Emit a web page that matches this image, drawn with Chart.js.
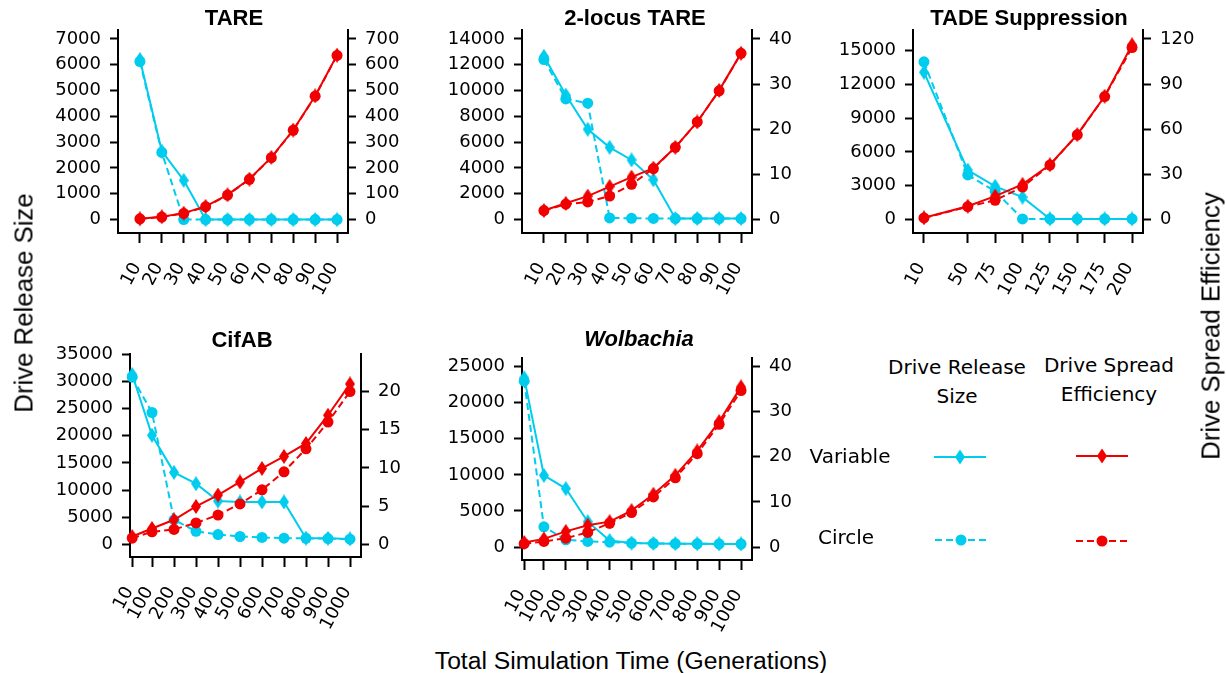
<!DOCTYPE html>
<html>
<head>
<meta charset="utf-8">
<script src="https://cdn.jsdelivr.net/npm/chart.js@4.4.1/dist/chart.umd.min.js"></script>
<style>
  body { margin: 0; background: #fff; }
  #fig { position: relative; width: 1226px; height: 673px; overflow: hidden; background: #fff; color: #000; }
  #fig canvas { position: absolute; }
  .ttl { position: absolute; font: bold 22px "Liberation Sans", Arial, sans-serif; transform: translate(-50%, -50%); white-space: nowrap; z-index: 2; }
  .axlab { position: absolute; font-family: "Liberation Sans", Arial, sans-serif; white-space: nowrap; transform: translate(-50%, -50%); }
  .vert { transform: translate(-50%, -50%) rotate(-90deg); font-size: 25.8px; }
  .leg { position: absolute; font: 20px "DejaVu Sans", sans-serif; text-align: center; transform: translate(-50%, -50%); line-height: 29px; white-space: nowrap; }
  .swatch { position: absolute; }
</style>
</head>
<body>
<div id="fig">
  <canvas id="cTare"></canvas>
  <canvas id="cTwoLocus"></canvas>
  <canvas id="cTade"></canvas>
  <canvas id="cCif"></canvas>
  <canvas id="cWol"></canvas>

  <div class="ttl" style="left:234px;top:18px">TARE</div>
  <div class="ttl" style="left:635px;top:18px">2-locus TARE</div>
  <div class="ttl" style="left:1029px;top:18px">TADE Suppression</div>
  <div class="ttl" style="left:242px;top:340px">CifAB</div>
  <div class="ttl" style="left:639px;top:339px;font-style:italic">Wolbachia</div>

  <div class="axlab vert" style="left:24px;top:303px">Drive Release Size</div>
  <div class="axlab vert" style="left:1211px;top:326px">Drive Spread Efficiency</div>
  <div class="axlab" style="left:631px;top:661px;font-size:24.7px">Total Simulation Time (Generations)</div>

  <div class="leg" style="left:957px;top:382px">Drive Release<br>Size</div>
  <div class="leg" style="left:1109px;top:380px">Drive Spread<br>Efficiency</div>
  <div class="leg" style="left:850px;top:456px">Variable</div>
  <div class="leg" style="left:846px;top:537px">Circle</div>

  <svg class="swatch" style="left:930px;top:445px" width="60" height="24">
    <line x1="4" y1="12" x2="56" y2="12" stroke="#00ccee" stroke-width="2"/>
    <polygon points="30,4.5 35,12 30,19.5 25,12" fill="#00ccee"/>
  </svg>
  <svg class="swatch" style="left:1072px;top:444px" width="60" height="24">
    <line x1="4" y1="12" x2="56" y2="12" stroke="#f00000" stroke-width="2"/>
    <polygon points="30,4.5 35,12 30,19.5 25,12" fill="#f00000"/>
  </svg>
  <svg class="swatch" style="left:931px;top:528px" width="60" height="24">
    <line x1="4" y1="12" x2="56" y2="12" stroke="#00ccee" stroke-width="2" stroke-dasharray="7,4"/>
    <circle cx="30" cy="12" r="5.5" fill="#00ccee"/>
  </svg>
  <svg class="swatch" style="left:1072px;top:529px" width="60" height="24">
    <line x1="4" y1="12" x2="56" y2="12" stroke="#f00000" stroke-width="2" stroke-dasharray="7,4"/>
    <circle cx="30" cy="12" r="5.5" fill="#f00000"/>
  </svg>
</div>

<script>
// ---- data ----
const tareGen = [10, 20, 30, 40, 50, 60, 70, 80, 90, 100];
const tareSizeVariable = [6200, 2650, 1520, 0, 0, 0, 0, 0, 0, 0];
const tareSizeCircle = [6120, 2600, 0, 0, 0, 0, 0, 0, 0, 0];
const tareSpreadVariable = [3, 11, 25, 51, 96, 157, 241, 347, 479, 637];
const tareSpreadCircle = [3, 10, 24, 50, 95, 156, 240, 346, 478, 636];

const twoLocusGen = [10, 20, 30, 40, 50, 60, 70, 80, 90, 100];
const twoLocusSizeVariable = [12650, 9650, 7000, 5600, 4620, 3080, 80, 80, 80, 80];
const twoLocusSizeCircle = [12400, 9350, 9020, 130, 100, 90, 80, 80, 80, 80];
const twoLocusSpreadVariable = [2.0, 3.6, 5.2, 7.3, 9.4, 11.4, 16.0, 21.6, 28.6, 36.8];
const twoLocusSpreadCircle = [2.0, 3.4, 3.9, 5.2, 7.8, 11.3, 16.0, 21.6, 28.5, 36.8];

const tadeGen = [10, 50, 75, 100, 125, 150, 175, 200];
const tadeSizeVariable = [13060, 4390, 2950, 1990, 60, 60, 60, 60];
const tadeSizeCircle = [13980, 3960, 2510, 60, 60, 60, 60, 60];
const tadeSpreadVariable = [1.2, 8.9, 15.6, 23.4, 36.4, 56.4, 81.9, 116.0];
const tadeSpreadCircle = [1.1, 8.6, 12.8, 21.6, 36.2, 56.3, 81.7, 114.2];

const cifGen = [10, 100, 200, 300, 400, 500, 600, 700, 800, 900, 1000];
const cifSizeVariable = [31300, 20100, 13260, 11170, 7980, 7800, 7800, 7800, 1130, 1100, 1000];
const cifSizeCircle = [30800, 24300, 4500, 2400, 1800, 1440, 1260, 1130, 1100, 1050, 950];
const cifSpreadVariable = [1.0, 2.06, 3.2, 4.94, 6.44, 8.16, 9.92, 11.5, 13.2, 16.9, 21.0];
const cifSpreadCircle = [0.8, 1.62, 1.93, 2.79, 3.82, 5.28, 7.13, 9.49, 12.5, 16.0, 20.0];

const wolGen = [10, 100, 200, 300, 400, 500, 600, 700, 800, 900, 1000];
const wolSizeVariable = [23430, 9920, 8100, 3510, 900, 550, 500, 470, 450, 430, 420];
const wolSizeCircle = [22970, 2800, 1000, 770, 680, 550, 500, 470, 450, 430, 420];
const wolSpreadVariable = [1.0, 1.8, 3.46, 4.84, 5.62, 8.08, 11.7, 15.9, 21.3, 27.8, 35.5];
const wolSpreadCircle = [0.73, 1.23, 1.95, 3.24, 5.27, 7.65, 11.1, 15.35, 20.7, 27.2, 34.7];

// ---- tick labels ----
const tadeTicksX = [10, 50, 75, 100, 125, 150, 175, 200];
const tareTicksLeft = [0, 1000, 2000, 3000, 4000, 5000, 6000, 7000];
const tareTicksRight = [0, 100, 200, 300, 400, 500, 600, 700];
const twoLocusTicksLeft = [0, 2000, 4000, 6000, 8000, 10000, 12000, 14000];
const twoLocusTicksRight = [0, 10, 20, 30, 40];
const tadeTicksLeft = [0, 3000, 6000, 9000, 12000, 15000];
const tadeTicksRight = [0, 30, 60, 90, 120];
const cifTicksLeft = [0, 5000, 10000, 15000, 20000, 25000, 30000, 35000];
const cifTicksRight = [0, 5, 10, 15, 20];
const wolTicksLeft = [0, 5000, 10000, 15000, 20000, 25000];
const wolTicksRight = [0, 10, 20, 30, 40];

// ---- style ----
const BLUE = '#00ccee';
const RED = '#f00000';
const PAD_L = 80, PAD_R = 70, PAD_T = 15, PAD_B = 80;

function thinDiamond(color) {
  const c = document.createElement('canvas');
  c.width = 10; c.height = 15;
  const g = c.getContext('2d');
  g.fillStyle = color;
  g.beginPath();
  g.moveTo(5, 0); g.lineTo(10, 7.5); g.lineTo(5, 15); g.lineTo(0, 7.5);
  g.closePath();
  g.fill();
  return c;
}
const diamondBlue = thinDiamond(BLUE);
const diamondRed = thinDiamond(RED);

function series(xs, ys, color, dashed, marker, axis) {
  return {
    data: xs.map((x, i) => ({ x: x, y: ys[i] })),
    yAxisID: axis,
    borderColor: color,
    backgroundColor: color,
    borderWidth: 2,
    borderDash: dashed ? [7, 4] : [],
    pointStyle: marker,
    pointRadius: 5.5,
    pointHoverRadius: 5.5,
    pointBorderWidth: 0,
    tension: 0,
    clip: false
  };
}

function axisStyle(ticks, tickLen, extra) {
  return Object.assign({
    type: 'linear',
    afterBuildTicks: (a) => { a.ticks = ticks.map(v => ({ value: v })); },
    border: { display: true, color: '#000', width: 2 },
    grid: { display: true, drawOnChartArea: false, drawTicks: true, tickLength: tickLen, tickWidth: 2, tickColor: '#000' },
  }, extra);
}

const tickFont = { family: 'DejaVu Sans', size: 18 };

function makePanel(id, area, xr, yl, yr, xt, ylt, yrt, sets, labelOffset) {
  const cv = document.getElementById(id);
  const w = area[2] - area[0] + PAD_L + PAD_R;
  const h = area[3] - area[1] + PAD_T + PAD_B;
  cv.width = w; cv.height = h;
  cv.style.left = (area[0] - PAD_L) + 'px';
  cv.style.top = (area[1] - PAD_T) + 'px';
  cv.style.width = w + 'px';
  cv.style.height = h + 'px';

  new Chart(cv.getContext('2d'), {
    type: 'line',
    data: { datasets: sets },
    options: {
      responsive: false,
      animation: false,
      events: [],
      layout: { padding: { top: PAD_T, left: 0, right: 0, bottom: 0 } },
      plugins: { legend: { display: false }, tooltip: { enabled: false }, title: { display: false } },
      scales: {
        x: axisStyle(xt, 10, {
          position: 'bottom', min: xr[0], max: xr[1],
          afterFit: (s) => { s.height = PAD_B; },
          ticks: { color: '#000', font: tickFont, autoSkip: false, minRotation: 62, maxRotation: 62,
                   padding: 16, labelOffset: labelOffset, callback: (v) => String(v) }
        }),
        yL: axisStyle(ylt, 8, {
          position: 'left', min: yl[0], max: yl[1],
          afterFit: (s) => { s.width = PAD_L; },
          ticks: { color: '#000', font: tickFont, padding: 9, callback: (v) => String(v) }
        }),
        yR: axisStyle(yrt, 8, {
          position: 'right', min: yr[0], max: yr[1],
          afterFit: (s) => { s.width = PAD_R; },
          ticks: { color: '#000', font: tickFont, padding: 9, callback: (v) => String(v) }
        })
      }
    }
  });
}

function fourSeries(gen, sv, sc, pv, pc) {
  return [
    series(gen, pv, RED, false, diamondRed, 'yR'),
    series(gen, pc, RED, true, 'circle', 'yR'),
    series(gen, sv, BLUE, false, diamondBlue, 'yL'),
    series(gen, sc, BLUE, true, 'circle', 'yL')
  ];
}

makePanel('cTare', [118, 25, 348, 233], [0, 105], [-519, 7351], [-51.9, 735.1],
  tareGen, tareTicksLeft, tareTicksRight,
  fourSeries(tareGen, tareSizeVariable, tareSizeCircle, tareSpreadVariable, tareSpreadCircle), -3);

makePanel('cTwoLocus', [522, 25, 752, 233], [0, 105], [-1039, 14708], [-2.97, 42.0],
  twoLocusGen, twoLocusTicksLeft, twoLocusTicksRight,
  fourSeries(twoLocusGen, twoLocusSizeVariable, twoLocusSizeCircle, twoLocusSpreadVariable, twoLocusSpreadCircle), -3);

makePanel('cTade', [913, 25, 1143, 233], [0, 210], [-1188, 16821], [-8.9, 126.0],
  tadeTicksX, tadeTicksLeft, tadeTicksRight,
  fourSeries(tadeGen, tadeSizeVariable, tadeSizeCircle, tadeSpreadVariable, tadeSpreadCircle), -3);

makePanel('cCif', [130, 349, 361, 557], [0, 1050], [-2341, 35120], [-1.68, 24.95],
  cifGen, cifTicksLeft, cifTicksRight,
  fourSeries(cifGen, cifSizeVariable, cifSizeCircle, cifSpreadVariable, cifSpreadCircle), -3);

makePanel('cWol', [522, 353, 752, 560], [0, 1050], [-1797, 26216], [-2.88, 41.95],
  wolGen, wolTicksLeft, wolTicksRight,
  fourSeries(wolGen, wolSizeVariable, wolSizeCircle, wolSpreadVariable, wolSpreadCircle), -3);
</script>
</body>
</html>
